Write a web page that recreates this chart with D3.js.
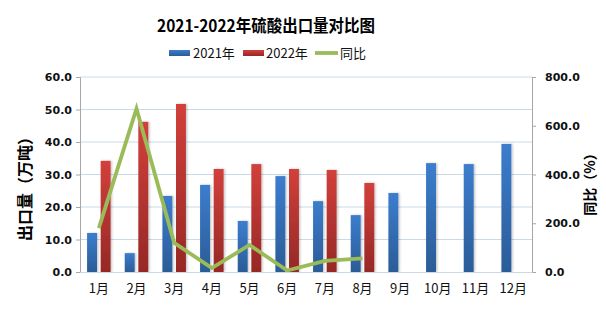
<!DOCTYPE html>
<html><head><meta charset="utf-8">
<script src="https://cdn.jsdelivr.net/npm/d3@7"></script>
<style>body{margin:0;background:#fff}svg{display:block}</style>
</head><body>
<svg id="c" width="606" height="323"></svg>
<script>
const months = ["1月","2月","3月","4月","5月","6月","7月","8月","9月","10月","11月","12月"];
const v2021 = [12.0, 5.8, 23.4, 26.8, 15.7, 29.5, 21.8, 17.5, 24.3, 33.5, 33.2, 39.4];
const v2022 = [34.2, 46.2, 51.7, 31.7, 33.2, 31.7, 31.4, 27.4, null, null, null, null];
const yoy = [180, 670, 120, 16, 111, 6, 46, 56];
const leftTicks = [0, 10, 20, 30, 40, 50, 60];
const rightTicks = [0, 200, 400, 600, 800];

const svg = d3.select("#c");
const L = 80, R = 532, T = 77, B = 272;
const x = d3.scaleBand().domain(months).range([L, R]).paddingInner(0).paddingOuter(0);
const y = d3.scaleLinear().domain([0, 60]).range([B, T]);
const y2 = d3.scaleLinear().domain([0, 800]).range([B, T]);
const inner = d3.scaleBand().domain(["a","b"]).range([0, x.bandwidth()]).paddingInner(0.27).paddingOuter(0.52);

const defs = svg.append("defs");
function grad(id, c1, c2){
  const g = defs.append("linearGradient").attr("id", id).attr("x1",0).attr("y1",0).attr("x2",0).attr("y2",1);
  g.append("stop").attr("offset","0%").attr("stop-color",c1);
  g.append("stop").attr("offset","100%").attr("stop-color",c2);
}
grad("gb", "#3C7DCE", "#2B5C97");
grad("gr", "#D2403B", "#962826");
const f = defs.append("filter").attr("id","sh").attr("x","-20%").attr("y","-5%").attr("width","150%").attr("height","110%");
f.append("feDropShadow").attr("dx",1.2).attr("dy",0).attr("stdDeviation",0.8).attr("flood-color","#000").attr("flood-opacity",0.25);

// gridlines
svg.append("g").selectAll("line").data(leftTicks.slice(1)).join("line")
  .attr("x1", L).attr("x2", R).attr("y1", d => y(d)).attr("y2", d => y(d))
  .attr("stroke", "#C9D9E8").attr("stroke-width", 1);

// bars
const bars = svg.append("g");
bars.selectAll("rect.b1").data(months).join("rect").attr("class","b1")
  .attr("x", (m) => x(m) + inner("a")).attr("width", inner.bandwidth())
  .attr("y", (m,i) => y(v2021[i])).attr("height", (m,i) => B - y(v2021[i]))
  .attr("fill", "url(#gb)").attr("filter","url(#sh)");
bars.selectAll("rect.b2").data(months.filter((m,i)=>v2022[i]!=null)).join("rect").attr("class","b2")
  .attr("x", (m) => x(m) + inner("b")).attr("width", inner.bandwidth())
  .attr("y", (m,i) => y(v2022[i])).attr("height", (m,i) => B - y(v2022[i]))
  .attr("fill", "url(#gr)").attr("filter","url(#sh)");

// line
const line = d3.line().x((d,i) => x(months[i]) + x.bandwidth()/2).y(d => y2(d));
svg.append("path").datum(yoy).attr("d", line).attr("fill","none")
  .attr("stroke","#9BBB59").attr("stroke-width",3.8).attr("stroke-linejoin","miter");

// axes
const tickFont = "'DejaVu Sans', Verdana, sans-serif";
const la = svg.append("g").attr("transform", `translate(${L},0)`)
  .call(d3.axisLeft(y).tickValues(leftTicks).tickFormat(d3.format(".1f")).tickSizeOuter(0).tickSize(4).tickPadding(4));
const ra = svg.append("g").attr("transform", `translate(${R},0)`)
  .call(d3.axisRight(y2).tickValues(rightTicks).tickFormat(d3.format(".1f")).tickSizeOuter(0).tickSize(4).tickPadding(9));
[la, ra].forEach(a => {
  a.select(".domain").attr("stroke","#A6A6A6");
  a.selectAll(".tick line").attr("stroke","#A6A6A6");
  a.selectAll("text").attr("font-family", tickFont).attr("font-size", 11).attr("font-weight","bold").attr("fill","#111");
});
const ba = svg.append("g").attr("transform", `translate(0,${B})`)
  .call(d3.axisBottom(x).tickSize(0).tickPadding(12));
ba.select(".domain").attr("stroke","#C9D9E8");
ba.selectAll("text").attr("font-family","'Noto Sans CJK SC', sans-serif").attr("font-size",13).attr("fill","#111");

// title
svg.append("text").attr("x", 157).attr("y", 32)
  .attr("font-family","'Noto Sans CJK SC', sans-serif").attr("font-weight","bold").attr("font-size",17).attr("fill","#000")
  .attr("textLength", 218).attr("lengthAdjust","spacingAndGlyphs")
  .text("2021-2022年硫酸出口量对比图");

// legend
const lg = svg.append("g").attr("font-family","'Noto Sans CJK SC', sans-serif").attr("font-size",13).attr("fill","#111");
lg.append("rect").attr("x",169).attr("y",50).attr("width",21).attr("height",6).attr("fill","url(#gb)");
lg.append("text").attr("x",193).attr("y",58).text("2021年");
lg.append("rect").attr("x",243).attr("y",50).attr("width",21).attr("height",6).attr("fill","url(#gr)");
lg.append("text").attr("x",266).attr("y",58).text("2022年");
lg.append("line").attr("x1",315).attr("x2",338).attr("y1",53).attr("y2",53).attr("stroke","#9BBB59").attr("stroke-width",3.8);
lg.append("text").attr("x",340).attr("y",58).text("同比");

// axis titles
svg.append("text").attr("transform","translate(31,185) rotate(-90)").attr("text-anchor","middle")
  .attr("font-family","'Noto Sans CJK SC', sans-serif").attr("font-weight","bold").attr("font-size",16).attr("fill","#000")
  .text("出口量（万吨）");
svg.append("text").attr("transform","translate(595,181) rotate(-90)").attr("text-anchor","middle")
  .attr("font-family","'Noto Sans CJK SC', sans-serif").attr("font-weight","bold").attr("font-size",14).attr("fill","#000")
  .text("同比（%）");
</script>
</body></html>
